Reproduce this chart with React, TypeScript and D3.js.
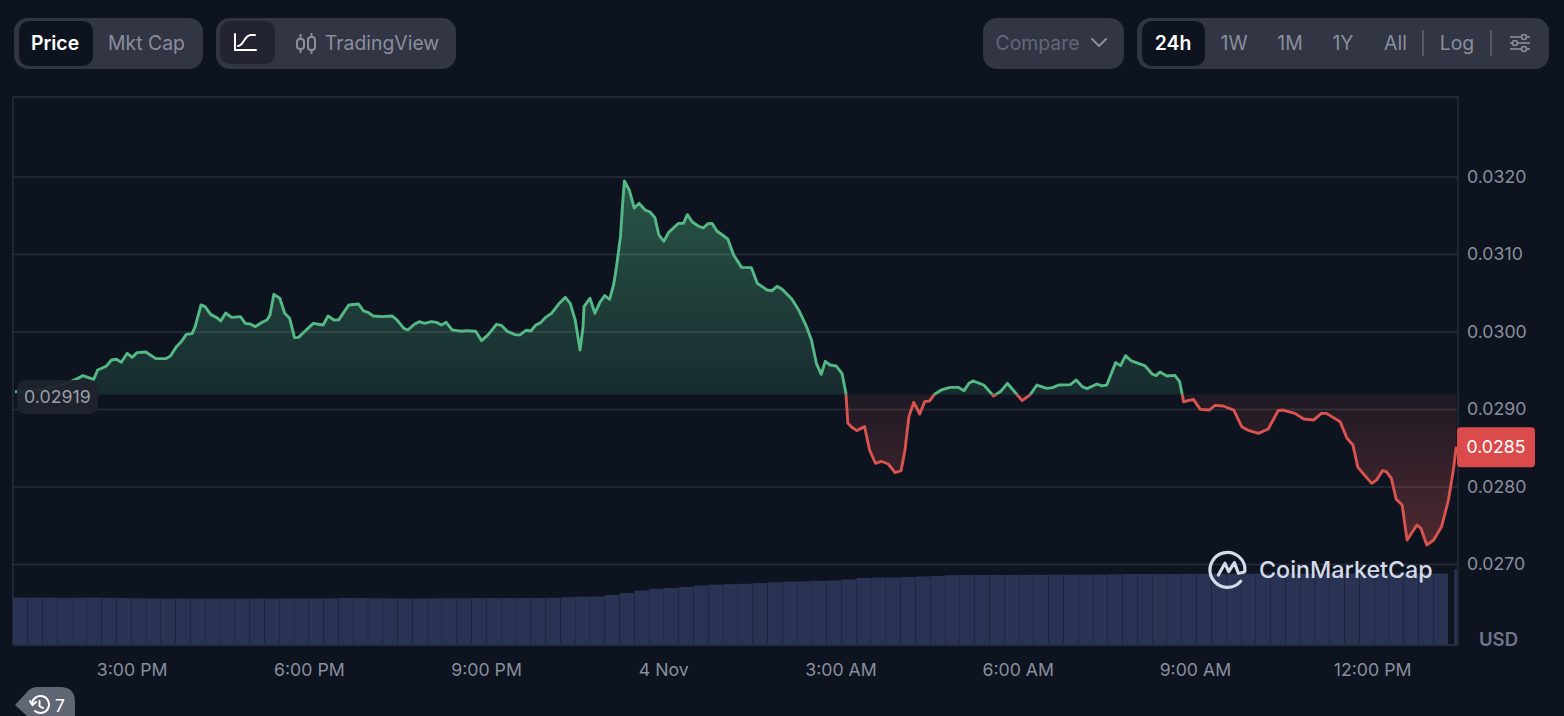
import { useEffect, useRef } from "react"
import * as d3 from "d3"

// minutes since the left edge of the chart (12:59 PM, 3 Nov)
const minutes = [
  2, 18, 38, 53, 66, 71, 76, 82, 86, 90, 95, 100, 105, 110, 116, 121, 126, 135, 145, 155, 160, 166, 171, 176, 182, 185,
  191, 195, 201, 207, 211, 216, 222, 231, 236, 241, 246, 253, 258, 261, 265, 271, 276, 281, 286, 290, 297, 305, 315,
  320, 326, 331, 341, 351, 356, 361, 366, 375, 385, 390, 397, 401, 408, 413, 418, 425, 430, 435, 440, 446, 451, 456,
  461, 470, 476, 483, 491, 496, 502, 510, 515, 521, 526, 531, 536, 541, 547, 554, 561, 566, 571, 576, 579, 580, 586,
  591, 596, 601, 606, 610, 613, 617, 619, 621, 626, 631, 636, 642, 647, 652, 656, 661, 666, 676, 681, 685, 690, 696,
  701, 706, 710, 715, 726, 732, 740, 750, 756, 766, 771, 776, 781, 791, 798, 806, 811, 816, 821, 825, 830, 836, 842,
  846, 848, 852, 857, 865, 870, 876, 882, 889, 896, 902, 906, 910, 915, 921, 926, 931, 936, 943, 952, 960, 966, 971,
  975, 986, 996, 1003, 1010, 1025, 1033, 1040, 1050, 1056, 1062, 1074, 1080, 1086, 1091, 1101, 1106, 1111, 1120, 1125,
  1130, 1136, 1150, 1157, 1161, 1165, 1172, 1180, 1185, 1189, 1199, 1206, 1215, 1221, 1229, 1240, 1248, 1254, 1265,
  1275, 1285, 1290, 1302, 1311, 1321, 1329, 1334, 1348, 1355, 1361, 1366, 1380, 1385, 1391, 1395, 1400, 1405, 1411,
  1416, 1426, 1430, 1436, 1443, 1451, 1458, 1463, 1466,
]

const prices = [
  0.02923, 0.02924, 0.029278, 0.02933, 0.029402, 0.029437, 0.029415, 0.02939, 0.02951, 0.029532, 0.029562, 0.029639,
  0.029648, 0.029609, 0.029725, 0.029673, 0.029734, 0.029742, 0.029656, 0.029656, 0.029691, 0.029811, 0.029876,
  0.02997, 0.029979, 0.030069, 0.030349, 0.030327, 0.030224, 0.030185, 0.030142, 0.030245, 0.030189, 0.030198,
  0.030112, 0.030103, 0.030069, 0.030125, 0.030155, 0.03022, 0.030486, 0.030435, 0.030241, 0.030177, 0.029927,
  0.029931, 0.030017, 0.030112, 0.03009, 0.030207, 0.030155, 0.030159, 0.030349, 0.030361, 0.030271, 0.03025,
  0.030207, 0.030198, 0.030207, 0.030155, 0.030047, 0.030026, 0.030103, 0.030134, 0.030112, 0.030134, 0.030125,
  0.03009, 0.030125, 0.030026, 0.030017, 0.030009, 0.030017, 0.030009, 0.029888, 0.02997, 0.030099, 0.030086,
  0.030009, 0.029966, 0.029962, 0.030022, 0.030013, 0.03009, 0.030121, 0.030189, 0.030241, 0.030357, 0.030447,
  0.03037, 0.030155, 0.029768, 0.030069, 0.030327, 0.030435, 0.030241, 0.030379, 0.030469, 0.030422, 0.030607,
  0.030843, 0.03123, 0.031617, 0.031948, 0.031832, 0.0316, 0.03166, 0.031574, 0.031548, 0.031475, 0.031252, 0.03117,
  0.031286, 0.031402, 0.031402, 0.031514, 0.031419, 0.031368, 0.031342, 0.031398, 0.031402, 0.031303, 0.0312,
  0.030994, 0.030834, 0.03083, 0.030628, 0.030542, 0.030533, 0.030589, 0.030555, 0.030426, 0.030284, 0.030069,
  0.029897, 0.029596, 0.029454, 0.029622, 0.029574, 0.029562, 0.029467, 0.029209, 0.028822, 0.02877, 0.028727,
  0.028779, 0.028478, 0.028306, 0.028332, 0.028297, 0.028186, 0.028211, 0.028478, 0.028908, 0.029093, 0.028942,
  0.029101, 0.02911, 0.029196, 0.029252, 0.029286, 0.029286, 0.029243, 0.029338, 0.029368, 0.029316, 0.029175,
  0.029231, 0.029338, 0.029114, 0.029188, 0.029316, 0.029273, 0.029282, 0.029316, 0.029321, 0.029381, 0.029295,
  0.029269, 0.029329, 0.029304, 0.029316, 0.029605, 0.029566, 0.029695, 0.029626, 0.029562, 0.029458, 0.029437,
  0.029484, 0.029433, 0.029441, 0.029359, 0.0291, 0.029131, 0.029002, 0.028993, 0.029053, 0.029045, 0.028993,
  0.028778, 0.028735, 0.028692, 0.028748, 0.028984, 0.028993, 0.02895, 0.028877, 0.028864, 0.02895, 0.02895, 0.028843,
  0.028628, 0.028542, 0.028253, 0.028047, 0.02809, 0.02821, 0.028198, 0.028112, 0.027841, 0.027768, 0.027316, 0.02751,
  0.027467, 0.027252, 0.027316, 0.027488, 0.027832, 0.028219, 0.02852,
]

// one bar per 15 minutes, rolling volume in arbitrary millions
const volumes = [
  47.4, 47.3, 47.4, 47.2, 47.3, 47.4, 47.2, 47.1, 46.8, 46.6, 46.5, 46.5, 46.4, 46.4, 46.4, 46.4, 46.5, 46.5, 46.5,
  46.5, 46.6, 46.7, 47.0, 46.9, 46.8, 46.7, 46.5, 46.5, 46.7, 46.8, 46.8, 46.9, 46.9, 46.9, 46.9, 47.0, 47.2, 47.8,
  48.3, 48.6, 50, 52, 54.5, 56.2, 57, 58, 59.5, 60.3, 60.8, 61.2, 62, 62.8, 63.3, 63.7, 64.2, 64.5, 65.5, 67, 67.3,
  67.5, 68, 68.5, 69, 69.8, 70, 70, 70.1, 70.1, 70.2, 70.2, 70.3, 70.3, 70.4, 70.5, 70.8, 71, 71, 71.1, 71.1, 71.2,
  71.2, 71.3, 71.3, 71.3, 71.4, 71.4, 71.4, 71.4, 71.5, 71.5, 71.5, 71.5, 71.5, 71.5, 71.5, 71.5, 71.5,
]
const lastVolumeMinute = 1464
const lastVolume = 76

const priceTicks = [0.032, 0.031, 0.03, 0.029, 0.028, 0.027]
const timeTicks = [121, 301, 481, 661, 841, 1021, 1201, 1381]
const timeLabels = ["3:00 PM", "6:00 PM", "9:00 PM", "4 Nov", "3:00 AM", "6:00 AM", "9:00 AM", "12:00 PM"]
const basePrice = 0.02919
const lastPrice = 0.0285
const chartStart = new Date(2023, 10, 3, 12, 59)

const FONT = "Inter, sans-serif"
const BG = "#0d1420"
const PANEL = "#323544"
const GREEN = "#55b985"
const RED = "#d9534f"
const MUTED = "#8a8e9e"

const toDate = (m: number) => new Date(chartStart.getTime() + m * 60000)

function Label({ x, text, fill = MUTED, weight = 400 }: { x: number; text: string; fill?: string; weight?: number }) {
  return (
    <text x={x} y={43} dy="0.35em" textAnchor="middle" fontFamily={FONT} fontSize={19.4} fontWeight={weight} fill={fill}>
      {text}
    </text>
  )
}

function Toolbar() {
  return (
    <g>
      <rect x={14} y={18} width={189} height={51} rx={14} fill={PANEL} />
      <rect x={19} y={21} width={74} height={45} rx={10} fill={BG} />
      <Label x={55} text="Price" fill="#fff" weight={600} />
      <Label x={146.5} text="Mkt Cap" />

      <rect x={216} y={18} width={240} height={51} rx={14} fill={PANEL} />
      <rect x={220} y={21} width={55} height={43} rx={10} fill="#222531" />
      <path d="M235 34V50H256M238 46c6 0 6-11 13-11h4" fill="none" stroke="#fff" strokeWidth={2} strokeLinecap="round" />
      <g fill="none" stroke={MUTED} strokeWidth={2}>
        <rect x={297} y={39} width={7} height={10} rx={3} />
        <rect x={308} y={37} width={7} height={13} rx={3} />
        <path d="M300.500 34V39M300.500 49V53M311.500 33V37M311.500 50V54" />
      </g>
      <Label x={382} text="TradingView" />

      <rect x={983} y={18} width={141} height={51} rx={14} fill={PANEL} />
      <Label x={1037.500} text="Compare" fill="#62667a" />
      <path d="M1092 39L1099 46L1106 39" fill="none" stroke={MUTED} strokeWidth={2} strokeLinecap="round" />

      <rect x={1137} y={18} width={412} height={51} rx={14} fill={PANEL} />
      <rect x={1142} y={21} width={63} height={45} rx={10} fill={BG} />
      <Label x={1173} text="24h" fill="#fff" weight={600} />
      <Label x={1234} text="1W" />
      <Label x={1290} text="1M" />
      <Label x={1343} text="1Y" />
      <Label x={1395.500} text="All" />
      <Label x={1457} text="Log" />
      <path d="M1423 30V56M1491 30V56" stroke="#565a6b" strokeWidth={2} />
      <g fill={PANEL} stroke={MUTED} strokeWidth={1.600}>
        <path d="M1510 37H1530M1510 43H1530M1510 49H1530" />
        <circle cx={1524} cy={37} r={2.500} />
        <circle cx={1515} cy={43} r={2.500} />
        <circle cx={1524} cy={49} r={2.500} />
      </g>
    </g>
  )
}

export default function App() {
  const chartRef = useRef<SVGGElement>(null)

  useEffect(() => {
    if (!chartRef.current) return

    // Clear previous chart
    const root = d3.select(chartRef.current)
    root.selectAll("*").remove()

    const left = 13
    const right = 1457
    const bottom = 645

    const x = d3
      .scaleTime()
      .domain([chartStart, toDate(1466.7)])
      .range([left, right])
    const y = d3.scaleLinear().domain([0.027, 0.032]).range([564.5, 177])
    const volY = d3.scaleLinear().domain([0, 80]).range([bottom, bottom - 80])
    const band = d3
      .scaleBand<number>()
      .domain(volumes.map((_, i) => i))
      .range([left, 1448])
      .paddingInner(0.02)

    const points = minutes.map((m, i) => ({ date: toDate(m), price: prices[i] }))
    const baseY = y(basePrice)

    // Gradients and clips for the baseline split
    const defs = root.append("defs")
    const upGrad = defs
      .append("linearGradient")
      .attr("id", "upFill")
      .attr("gradientUnits", "userSpaceOnUse")
      .attr("x1", 0)
      .attr("x2", 0)
      .attr("y1", y(0.032))
      .attr("y2", baseY)
    upGrad.append("stop").attr("offset", 0).attr("stop-color", GREEN).attr("stop-opacity", 0.4)
    upGrad.append("stop").attr("offset", 1).attr("stop-color", GREEN).attr("stop-opacity", 0.14)
    const downGrad = defs
      .append("linearGradient")
      .attr("id", "downFill")
      .attr("gradientUnits", "userSpaceOnUse")
      .attr("x1", 0)
      .attr("x2", 0)
      .attr("y1", baseY)
      .attr("y2", y(0.0272))
    downGrad.append("stop").attr("offset", 0).attr("stop-color", RED).attr("stop-opacity", 0.09)
    downGrad.append("stop").attr("offset", 1).attr("stop-color", RED).attr("stop-opacity", 0.32)
    defs
      .append("clipPath")
      .attr("id", "aboveBase")
      .append("rect")
      .attr("x", left)
      .attr("y", 97)
      .attr("width", right - left)
      .attr("height", baseY - 97)
    defs
      .append("clipPath")
      .attr("id", "belowBase")
      .append("rect")
      .attr("x", left)
      .attr("y", baseY)
      .attr("width", right - left)
      .attr("height", bottom - baseY)

    // Area fills
    const area = d3
      .area<{ date: Date; price: number }>()
      .x((d) => x(d.date))
      .y0(baseY)
      .y1((d) => y(d.price))
    root.append("path").datum(points).attr("d", area).attr("fill", "url(#upFill)").attr("clip-path", "url(#aboveBase)")
    root.append("path").datum(points).attr("d", area).attr("fill", "url(#downFill)").attr("clip-path", "url(#belowBase)")

    // Grid and frame
    root
      .selectAll(".grid")
      .data(priceTicks)
      .enter()
      .append("line")
      .attr("x1", left)
      .attr("x2", right)
      .attr("y1", (d) => y(d))
      .attr("y2", (d) => y(d))
      .attr("stroke", "#fff")
      .attr("stroke-opacity", 0.11)
      .attr("stroke-width", 1.3)
    root
      .append("path")
      .attr("d", `M${left} ${bottom}V97H${right + 1}V${bottom}`)
      .attr("fill", "none")
      .attr("stroke", "#fff")
      .attr("stroke-opacity", 0.13)
      .attr("stroke-width", 1.3)

    // Volume bars
    root
      .selectAll(".vol")
      .data(volumes)
      .enter()
      .append("rect")
      .attr("x", (_, i) => band(i) as number)
      .attr("width", band.bandwidth())
      .attr("y", (d) => volY(d))
      .attr("height", (d) => bottom - volY(d))
      .attr("fill", "#2b3354")
    root
      .append("rect")
      .attr("x", x(toDate(lastVolumeMinute)))
      .attr("width", right - x(toDate(lastVolumeMinute)))
      .attr("y", volY(lastVolume))
      .attr("height", bottom - volY(lastVolume))
      .attr("fill", "#2b3354")
    root
      .append("line")
      .attr("x1", left)
      .attr("x2", right + 1)
      .attr("y1", bottom)
      .attr("y2", bottom)
      .attr("stroke", "#232b3f")
      .attr("stroke-width", 2)

    // Price line, green above the baseline and red below
    const line = d3
      .line<{ date: Date; price: number }>()
      .x((d) => x(d.date))
      .y((d) => y(d.price))
    const drawLine = (color: string, clip: string) =>
      root
        .append("path")
        .datum(points)
        .attr("d", line)
        .attr("fill", "none")
        .attr("stroke", color)
        .attr("stroke-width", 2.9)
        .attr("stroke-linejoin", "round")
        .attr("clip-path", `url(#${clip})`)
    drawLine(GREEN, "aboveBase")
    drawLine(RED, "belowBase")

    // Axes
    const yAxis = root
      .append("g")
      .attr("transform", `translate(${right + 1},-0.6)`)
      .call(d3.axisRight(y).tickValues(priceTicks).tickSize(0).tickPadding(9).tickFormat(d3.format(".4f")))
    const xAxis = root
      .append("g")
      .attr("transform", `translate(-0.5,${bottom})`)
      .call(
        d3
          .axisBottom(x)
          .tickValues(timeTicks.map(toDate))
          .tickSize(0)
          .tickPadding(18)
          .tickFormat((_, i) => timeLabels[i]),
      )
    for (const axis of [yAxis, xAxis]) {
      axis.select(".domain").remove()
      axis.selectAll("text").attr("fill", MUTED).attr("font-family", FONT).attr("font-size", 17.7)
    }

    // Baseline tag
    root
      .append("rect")
      .attr("x", 17)
      .attr("y", 380)
      .attr("width", 81)
      .attr("height", 34)
      .attr("rx", 9)
      .attr("fill", "#1f232d")
      .attr("fill-opacity", 0.95)
    root
      .append("text")
      .attr("x", 57.5)
      .attr("y", 397)
      .attr("dy", "0.35em")
      .attr("text-anchor", "middle")
      .attr("font-family", FONT)
      .attr("font-size", 17.8)
      .attr("fill", "#9a9ea9")
      .text(d3.format(".5f")(basePrice))

    // Last price tag
    root
      .append("rect")
      .attr("x", right)
      .attr("y", y(lastPrice) - 21)
      .attr("width", 78)
      .attr("height", 40)
      .attr("rx", 4)
      .attr("fill", "#dc4b4b")
    root
      .append("text")
      .attr("x", right + 39)
      .attr("y", y(lastPrice) - 1)
      .attr("dy", "0.35em")
      .attr("text-anchor", "middle")
      .attr("font-family", FONT)
      .attr("font-size", 17.7)
      .attr("fill", "#fff")
      .text(d3.format(".4f")(lastPrice))
  }, [])

  return (
    <svg
      width={1564}
      height={716}
      viewBox="0 0 1564 716"
      style={{ position: "absolute", top: 0, left: 0, background: BG, display: "block" }}
    >
      <Toolbar />
      <g ref={chartRef} />

      {/* watermark */}
      <g transform="translate(1227.700,567.300)" fill="none" stroke="#d5dae8" strokeWidth={3.200} strokeLinecap="round" strokeLinejoin="round">
        <path d="M13 14A17.500 17.500 0 1 1 17.200 4" />
        <path d="M-9.300 7.700L-2.700-4L1 4.300L6.700-4.700L10.700 6L16 5" />
      </g>
      <text x={1259} y={578} fontFamily={FONT} fontSize={23.300} fontWeight={500} fill="#d5dae8">
        CoinMarketCap
      </text>

      <text x={1498.500} y={640} dy="0.35em" textAnchor="middle" fontFamily={FONT} fontSize={18.500} fontWeight={600} fill="#71768a">
        USD
      </text>

      {/* history badge */}
      <path d="M15 705L27 692Q31 687 38 687H60Q75 687 75 702V716H27Z" fill="#616675" />
      <g fill="none" stroke="#fff" strokeWidth={2}>
        <path d="M32 704A8.500 8.500 0 1 1 35 711" strokeLinecap="round" />
        <path d="M30 701L32.500 705L36 702M39.500 701V706L43 708" strokeLinecap="round" />
      </g>
      <text x={60} y={706} dy="0.35em" textAnchor="middle" fontFamily={FONT} fontSize={17.500} fill="#fff">
        7
      </text>
    </svg>
  )
}
